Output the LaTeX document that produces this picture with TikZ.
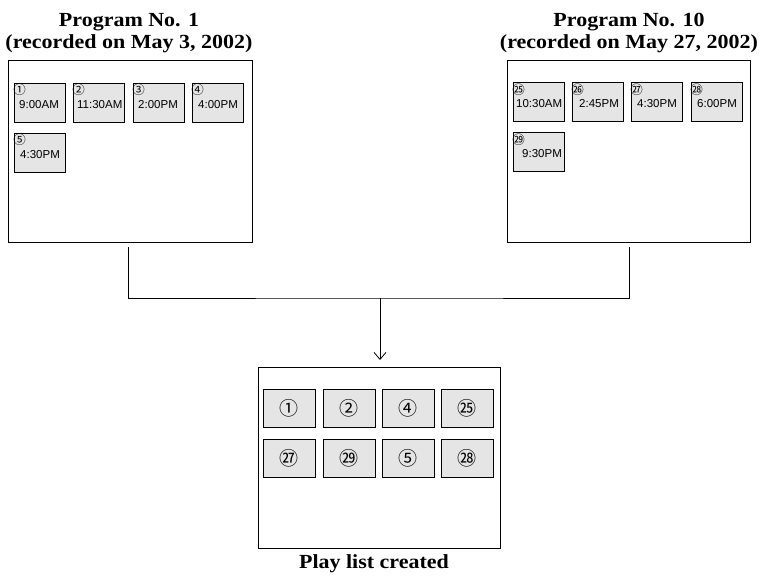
\documentclass[tikz,border=0pt]{standalone}
\usepackage{fontspec}
\setmainfont{Liberation Serif}
\newfontfamily\titlefont[FakeStretch=1.1]{Liberation Serif}
\newfontfamily\timefont{Liberation Sans}
\newfontfamily\circfont{Noto Sans CJK JP}
\usetikzlibrary{arrows.meta}
\begin{document}
\begin{tikzpicture}[x=1pt,y=-1pt,
  bigbox/.style={draw, line width=1pt, minimum width=244pt, minimum height=182pt, anchor=north west, inner sep=0pt},
  sbox/.style={draw, fill=gray!20, line width=0.7pt, minimum width=51pt, minimum height=39pt, anchor=north west, inner sep=0pt},
  pbox/.style={draw, fill=gray!20, line width=0.7pt, minimum width=52pt, minimum height=38pt, anchor=north west, inner sep=0pt, font=\circfont\fontsize{19}{19}\selectfont},
  num/.style={font=\circfont\fontsize{12.5}{12.5}\selectfont, inner sep=0pt},
  tim/.style={font=\timefont\fontsize{11.5}{12}\selectfont, inner sep=0pt, anchor=west},
  title/.style={font=\titlefont\bfseries\fontsize{20}{22}\selectfont, align=center, inner sep=0pt},
  conn/.style={line width=0.8pt}]
\useasboundingbox (0,0) rectangle (759,576);

% titles
\node[title] (t1) at (129,33) {Program No. 1\\(recorded on May 3, 2002)};
\node[title] (t10) at (629,33) {Program No. 10\\(recorded on May 27, 2002)};

% big boxes
\node[bigbox] (prog1) at (8,60) {};
\node[bigbox, minimum width=243pt] (prog10) at (507,60) {};
\node[bigbox, minimum width=242pt, minimum height=181pt] (playlist) at (258,367) {};

% program 1 entries
\node[sbox] (a1) at (14,83) {};
\node[num] at ([xshift=5.5pt,yshift=-6.5pt]a1.north west) {①};
\node[tim] at ([xshift=5pt,yshift=-22pt]a1.north west) {9:00AM};
\node[sbox] (a2) at (73,83) {};
\node[num] at ([xshift=5.5pt,yshift=-6.5pt]a2.north west) {②};
\node[tim] at ([xshift=4pt,yshift=-22pt]a2.north west) {11:30AM};
\node[sbox] (a3) at (133,83) {};
\node[num] at ([xshift=5.5pt,yshift=-6.5pt]a3.north west) {③};
\node[tim] at ([xshift=5pt,yshift=-22pt]a3.north west) {2:00PM};
\node[sbox] (a4) at (192,83) {};
\node[num] at ([xshift=5.5pt,yshift=-6.5pt]a4.north west) {④};
\node[tim] at ([xshift=6pt,yshift=-22pt]a4.north west) {4:00PM};
\node[sbox] (a5) at (14,133) {};
\node[num] at ([xshift=5.5pt,yshift=-6.5pt]a5.north west) {⑤};
\node[tim] at ([xshift=6pt,yshift=-22pt]a5.north west) {4:30PM};

% program 10 entries
\node[sbox] (b1) at (513,82) {};
\node[num] at ([xshift=5.5pt,yshift=-8pt]b1.north west) {㉕};
\node[tim] at ([xshift=3pt,yshift=-22pt]b1.north west) {10:30AM};
\node[sbox] (b2) at (572,82) {};
\node[num] at ([xshift=5.5pt,yshift=-8pt]b2.north west) {㉖};
\node[tim] at ([xshift=7pt,yshift=-22pt]b2.north west) {2:45PM};
\node[sbox] (b3) at (631,82) {};
\node[num] at ([xshift=5.5pt,yshift=-8pt]b3.north west) {㉗};
\node[tim] at ([xshift=6pt,yshift=-22pt]b3.north west) {4:30PM};
\node[sbox] (b4) at (691,82) {};
\node[num] at ([xshift=5.5pt,yshift=-8pt]b4.north west) {㉘};
\node[tim] at ([xshift=6pt,yshift=-22pt]b4.north west) {6:00PM};
\node[sbox] (b5) at (513,132) {};
\node[num] at ([xshift=5.5pt,yshift=-8pt]b5.north west) {㉙};
\node[tim] at ([xshift=9pt,yshift=-22pt]b5.north west) {9:30PM};

% play list entries
\node[pbox] (p1) at (263,389) {①};
\node[pbox] (p2) at (323,389) {②};
\node[pbox] (p3) at (382,389) {④};
\node[pbox] (p4) at (441,389) {㉕};
\node[pbox] (p5) at (263,439) {㉗};
\node[pbox] (p6) at (323,439) {㉙};
\node[pbox] (p7) at (382,439) {⑤};
\node[pbox] (p8) at (441,439) {㉘};

\node[title] (tp) at (374,564) {Play list created};

% connectors
\coordinate (j) at (380,298);
\draw[conn] ([xshift=-2pt,yshift=-4pt]prog1.south) |- (j) -| ([yshift=-4pt]prog10.south);
\draw[conn, -{Straight Barb[length=7pt,width=12pt]}, shorten >=7pt] (j) -- (j |- playlist.north);
\end{tikzpicture}
\end{document}
